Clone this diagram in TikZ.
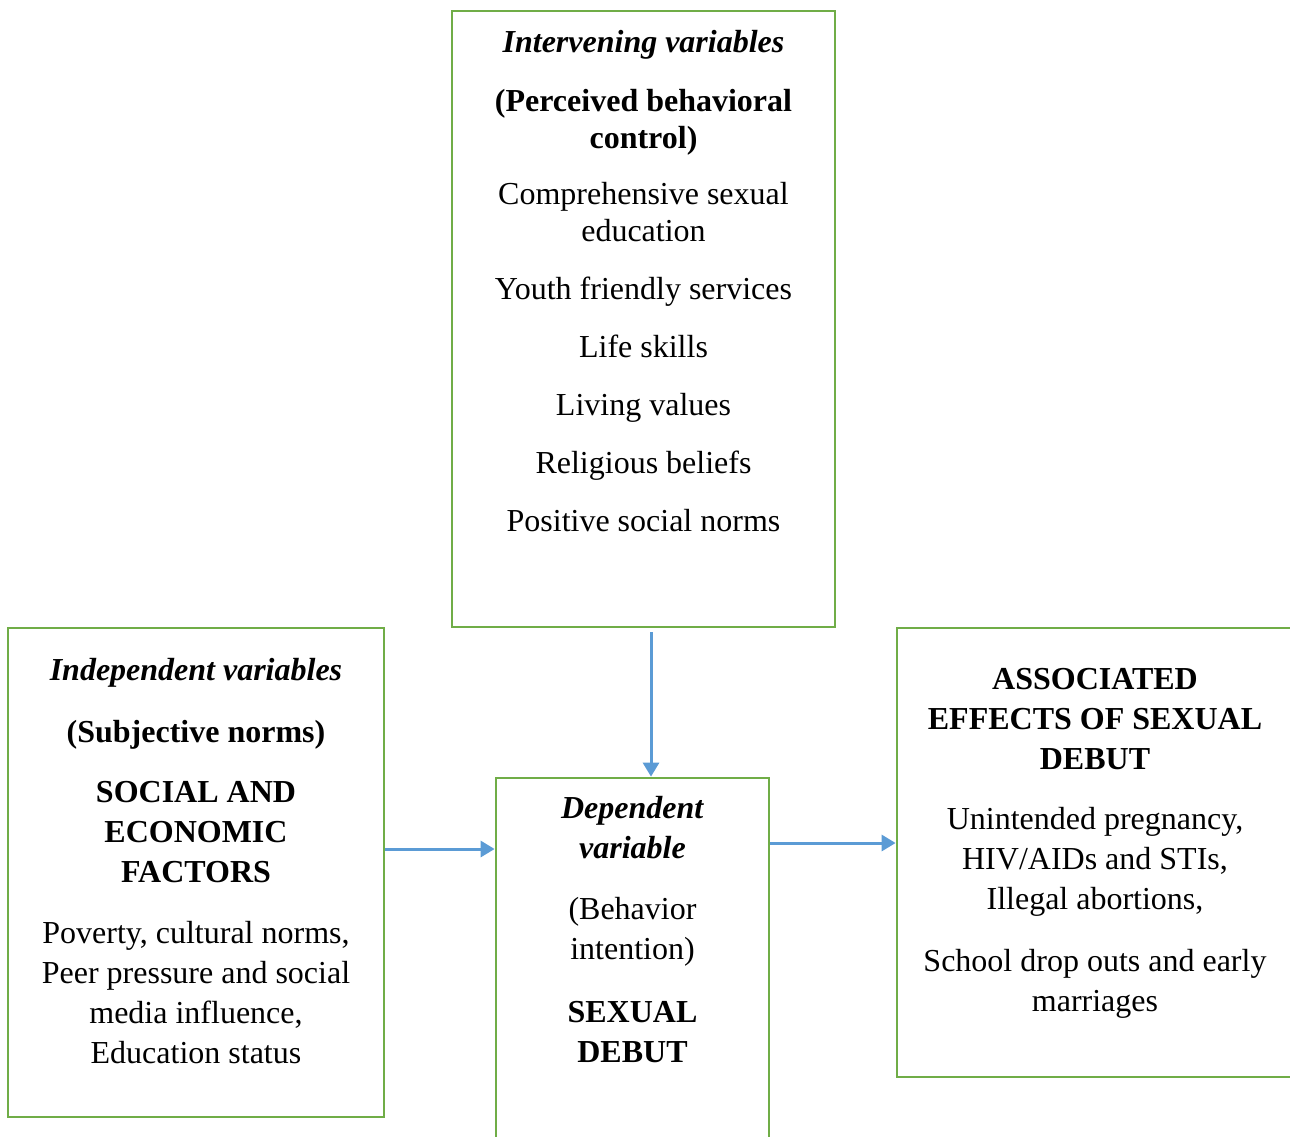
\documentclass[tikz,border=0pt]{standalone}
\usepackage{fontspec}
\setmainfont{Liberation Serif}
\usetikzlibrary{arrows.meta, positioning, calc}
\definecolor{boxgreen}{RGB}{112,173,71}
\definecolor{arrowblue}{RGB}{91,155,213}

\begin{document}
\begin{tikzpicture}[x=1pt,y=-1pt,>={Triangle[length=14pt,width=16pt]}]
          \tikzstyle{varbox}=[draw=boxgreen,line width=2.75pt,fill=white,inner sep=0pt]
          \tikzstyle{vartext}=[font=\fontsize{32}{40}\selectfont,align=center,text=black,inner sep=0pt]
          \tikzstyle{link}=[->,draw=arrowblue,line width=3pt]

          \clip (0,0) rectangle (1290,1136);

          % boxes
          \node[varbox,minimum width=383pt,minimum height=616pt] (inter) at (643.5,319) {};
          \node[varbox,minimum width=376pt,minimum height=489pt] (indep) at (196,872.5) {};
          \node[varbox,minimum width=273pt,minimum height=382pt] (dep) at (632.5,969) {};
          \node[varbox,minimum width=396pt,minimum height=449pt] (effects) at (1095,852.5) {};

          % texts
          \node[vartext,font=\fontsize{32}{37}\selectfont] (intertxt) at (643.5,281) {\textbf{\textit{Intervening variables}}\\[22pt]
            \textbf{(Perceived behavioral}\\\textbf{control)}\\[19pt]
            Comprehensive sexual\\education\\[21pt]
            Youth friendly services\\[21pt]
            Life skills\\[21pt]
            Living values\\[21pt]
            Religious beliefs\\[21pt]
            Positive social norms};
          \node[vartext] (indeptxt) at (196,861) {\textbf{\textit{Independent variables}}\\[22pt]
            \textbf{(Subjective norms)}\\[20pt]
            \textbf{SOCIAL AND}\\\textbf{ECONOMIC}\\\textbf{FACTORS}\\[21pt]
            Poverty, cultural norms,\\Peer pressure and social\\media influence,\\Education status};
          \node[vartext] (deptxt) at (632.5,929.5) {\textbf{\textit{Dependent}}\\\textbf{\textit{variable}}\\[21pt]
            (Behavior\\intention)\\[23pt]
            \textbf{SEXUAL}\\\textbf{DEBUT}};
          \node[vartext] (effectstxt) at (1095,843) {\textbf{ASSOCIATED}\\\textbf{EFFECTS OF SEXUAL}\\\textbf{DEBUT}\\[20pt]
            Unintended pregnancy,\\HIV/AIDs and STIs,\\Illegal abortions,\\[22pt]
            School drop outs and early\\marriages};

          % connectors
          \coordinate (row1) at (0,849);
          \coordinate (row2) at (0,843);
          \draw[link,shorten <=4pt] ([xshift=7.5pt]inter.south) -- ([xshift=18.5pt]dep.north);
          \draw[link] (indep.east |- row1) -- (dep.west |- row1);
          \draw[link] (dep.east |- row2) -- (effects.west |- row2);
\end{tikzpicture}
\end{document}
